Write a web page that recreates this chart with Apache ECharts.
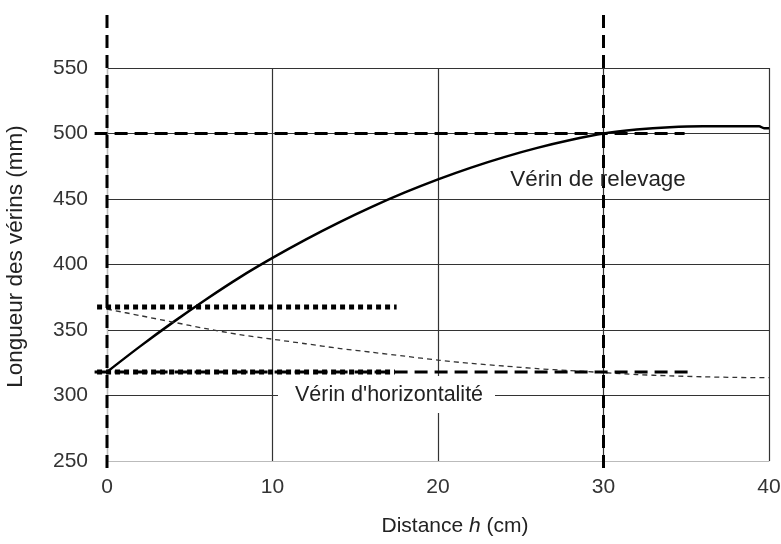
<!DOCTYPE html>
<html>
<head>
<meta charset="utf-8">
<script src="https://cdn.jsdelivr.net/npm/echarts@6/dist/echarts.min.js"></script>
<style>html,body{margin:0;padding:0;background:#fff}#c{width:781px;height:544px}</style>
</head>
<body>
<div id="c"></div>
<script>
// Vérin de relevage (solid curve)
const relevageH = [0, 2, 4, 6, 8, 10, 12, 14, 16, 18, 20, 22, 24, 26, 28, 30, 32, 34, 36, 38, 39.4, 39.7, 40];
const relevageL = [318, 337.5, 356, 373.5, 390, 405, 419, 432, 444, 455, 465, 474, 482, 489, 495, 500, 503, 504.8, 505.5, 505.5, 505.5, 504, 504];
// Vérin d'horizontalité (thin dashed curve)
const horizH = [0, 2, 4, 6, 8, 10, 12, 14, 16, 18, 20, 22, 24, 26, 28, 30, 32, 34, 36, 38, 40];
const horizL = [366, 361, 356, 351, 346.5, 343, 339.5, 336, 333, 330, 327, 324.5, 322.5, 320.5, 319, 317.5, 316, 315, 314.3, 313.8, 313.6];
// reference lines
const vLineX = [0, 30];
const vLineRange = [244.7, 592.7];
const hDashY = [500, 318];
const hDashRange = [[-0.75, 34.9], [-0.75, 35.5]];
const hDotY = [367.5, 318];
const hDotRange = [[-0.6, 17.5], [-0.6, 17.4]];
const xTicks = [0, 40, 10];
const yTicks = [250, 550, 50];
const labels = { relevage: 'Vérin de relevage', horiz: "Vérin d'horizontalité" };

const FONT = 'Liberation Sans, Arial, sans-serif';

// segments [x1, y1, x2, y2]
const dashSegs = [];
vLineX.forEach(x => dashSegs.push([x, vLineRange[0], x, vLineRange[1]]));
hDashY.forEach((y, i) => dashSegs.push([hDashRange[i][0], y, hDashRange[i][1], y]));
const dotSegs = hDotY.map((y, i) => [hDotRange[i][0], y, hDotRange[i][1], y]);

function segSeries(data, width, dash, z) {
  return {
    type: 'custom', data: data, clip: false, z: z, silent: true,
    encode: { x: [0, 2], y: [1, 3] },
    renderItem: (params, api) => {
      const p1 = api.coord([api.value(0), api.value(1)]);
      const p2 = api.coord([api.value(2), api.value(3)]);
      return {
        type: 'line',
        shape: { x1: p1[0], y1: p1[1], x2: p2[0], y2: p2[1] },
        style: { stroke: '#000', lineWidth: width, lineDash: dash, lineCap: 'butt', fill: null }
      };
    }
  };
}

const series = [];
series.push({
  type: 'line', data: relevageH.map((h, i) => [h, relevageL[i]]), smooth: 0.3,
  showSymbol: false, lineStyle: { color: '#000', width: 2.5 }, z: 5
});
series.push({
  type: 'line', data: horizH.map((h, i) => [h, horizL[i]]), smooth: 0.3,
  showSymbol: false, lineStyle: { color: '#333', width: 1.3, type: [5, 4] }, z: 5
});
series.push(segSeries(dashSegs, 3, [13, 7], 6));
series.push(segSeries(dotSegs, 5, [5, 4], 7));

const chart = echarts.init(document.getElementById('c'), null, { renderer: 'canvas' });
chart.setOption({
  animation: false,
  backgroundColor: '#fff',
  textStyle: { fontFamily: FONT },
  grid: { left: 107, right: 12, top: 68, bottom: 83, containLabel: false, outerBoundsMode: 'none' },
  xAxis: {
    type: 'value', min: xTicks[0], max: xTicks[1], interval: xTicks[2],
    name: 'Distance {i|h} (cm)', nameLocation: 'middle', nameGap: 55,
    nameTextStyle: { fontSize: 21, color: '#222', fontFamily: FONT, padding: [0, 0, 0, 34],
      rich: { i: { fontStyle: 'italic', fontSize: 21, color: '#222', fontFamily: FONT } } },
    axisLine: { show: true, lineStyle: { color: '#bbb', width: 1 } },
    axisTick: { show: false },
    axisLabel: { fontSize: 21, color: '#333', margin: 16, fontFamily: FONT },
    splitLine: { show: true, lineStyle: { color: '#333', width: 1.2 } }
  },
  yAxis: {
    type: 'value', min: yTicks[0], max: yTicks[1], interval: yTicks[2],
    name: 'Longueur des vérins (mm)', nameLocation: 'middle', nameGap: 80,
    nameTextStyle: { fontSize: 22.5, color: '#222', fontFamily: FONT, padding: [0, 0, 0, 16] },
    axisLine: { show: true, lineStyle: { color: '#bbb', width: 1 } },
    axisTick: { show: false },
    axisLabel: { fontSize: 21, color: '#333', margin: 19, fontFamily: FONT },
    splitLine: { show: true, lineStyle: { color: ['#bbb', '#333', '#333', '#333', '#333', '#333', '#333'], width: 1.2 } }
  },
  series: series,
  graphic: [
    { type: 'rect', z: 100, shape: { x: 278, y: 376, width: 217, height: 37 }, style: { fill: '#fff' } },
    { type: 'text', z: 101, style: { x: 389, y: 395, text: labels.horiz, font: '21.5px ' + FONT, fill: '#222', textAlign: 'center', textVerticalAlign: 'middle' } },
    { type: 'text', z: 101, style: { x: 598, y: 180, text: labels.relevage, font: '22.4px ' + FONT, fill: '#222', textAlign: 'center', textVerticalAlign: 'middle' } }
  ]
});
</script>
</body>
</html>
